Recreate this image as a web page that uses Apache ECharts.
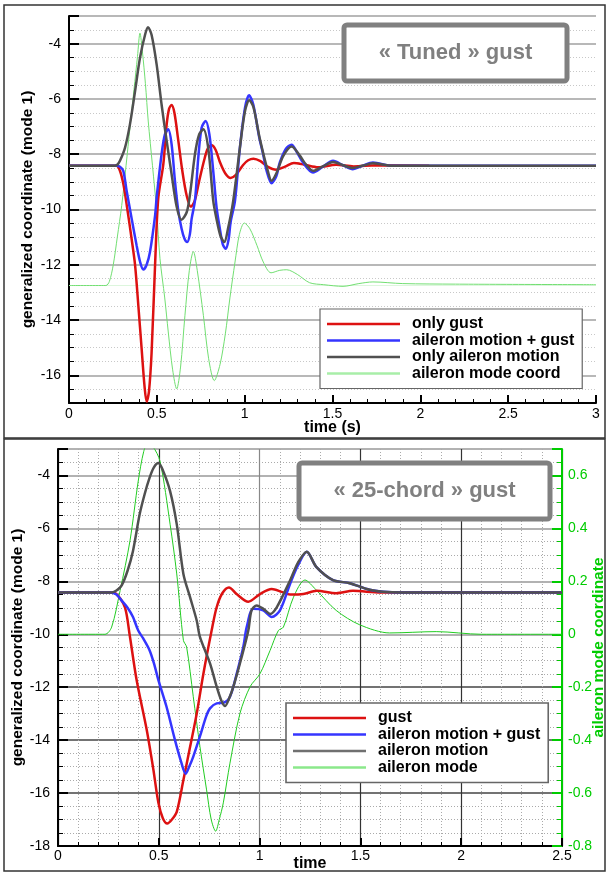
<!DOCTYPE html>
<html>
<head>
<meta charset="utf-8">
<script src="https://cdn.jsdelivr.net/npm/echarts/dist/echarts.min.js"></script>
<style>
html,body{margin:0;padding:0;background:#fff;}
#chart{width:606px;height:872px;}
</style>
</head>
<body>
<div id="chart"></div>
<script>
// ---------- DATA: top panel ("Tuned" gust), [time, generalized coordinate] ----------
const tunedOnlyGust = [[0,-8.42],[0.27,-8.42],[0.29,-8.6],[0.31,-9.1],[0.33,-9.9],[0.355,-11.0],[0.376,-12.0],[0.395,-13.5],[0.413,-15.0],[0.43,-16.4],[0.442,-16.95],[0.455,-16.6],[0.47,-15.2],[0.49,-12.0],[0.508,-9.6],[0.537,-8.36],[0.556,-6.92],[0.57,-6.35],[0.584,-6.22],[0.6,-6.5],[0.62,-7.4],[0.645,-8.6],[0.67,-9.5],[0.694,-9.9],[0.715,-9.7],[0.74,-9.0],[0.77,-8.2],[0.79,-7.8],[0.812,-7.68],[0.835,-7.85],[0.86,-8.3],[0.89,-8.7],[0.92,-8.86],[0.95,-8.75],[0.99,-8.4],[1.02,-8.22],[1.05,-8.16],[1.09,-8.25],[1.13,-8.45],[1.18,-8.56],[1.23,-8.45],[1.28,-8.32],[1.34,-8.38],[1.42,-8.47],[1.52,-8.38],[1.62,-8.44],[1.75,-8.4],[2.05,-8.42]];
const tunedAileronGust = [[0,-8.42],[0.27,-8.42],[0.29,-8.45],[0.309,-8.6],[0.328,-9.32],[0.357,-10.34],[0.385,-11.3],[0.405,-11.9],[0.423,-12.17],[0.442,-12.0],[0.461,-11.54],[0.49,-10.22],[0.499,-9.56],[0.527,-8.0],[0.546,-7.28],[0.565,-7.1],[0.584,-7.64],[0.603,-8.96],[0.622,-10.04],[0.641,-10.7],[0.657,-11.05],[0.673,-11.18],[0.688,-10.9],[0.698,-10.34],[0.717,-9.68],[0.736,-8.12],[0.755,-7.04],[0.778,-6.8],[0.799,-7.28],[0.821,-8.6],[0.84,-9.92],[0.859,-10.7],[0.875,-11.25],[0.892,-11.42],[0.908,-11.1],[0.92,-10.46],[0.945,-9.68],[0.973,-7.76],[1.002,-6.32],[1.025,-5.87],[1.049,-6.2],[1.083,-7.4],[1.105,-8.0],[1.125,-8.6],[1.153,-9.05],[1.18,-8.8],[1.2,-8.3],[1.235,-7.8],[1.267,-7.66],[1.295,-7.9],[1.332,-8.3],[1.389,-8.66],[1.445,-8.45],[1.503,-8.24],[1.56,-8.4],[1.616,-8.54],[1.67,-8.42],[1.73,-8.3],[1.84,-8.42],[3,-8.42]];
const tunedOnlyAileron = [[0,-8.42],[0.26,-8.42],[0.275,-8.38],[0.29,-8.24],[0.319,-7.76],[0.347,-6.92],[0.376,-5.72],[0.404,-4.52],[0.433,-3.68],[0.45,-3.41],[0.47,-3.68],[0.499,-4.76],[0.527,-6.2],[0.556,-7.52],[0.584,-8.72],[0.613,-9.9],[0.64,-10.37],[0.67,-10.1],[0.689,-9.44],[0.717,-8.0],[0.74,-7.3],[0.765,-7.1],[0.793,-7.8],[0.821,-9.68],[0.84,-10.35],[0.862,-10.95],[0.884,-11.18],[0.905,-10.7],[0.935,-9.68],[0.973,-7.76],[1.002,-6.44],[1.026,-6.05],[1.05,-6.3],[1.087,-7.46],[1.134,-8.66],[1.153,-8.96],[1.18,-8.7],[1.22,-8.06],[1.267,-7.72],[1.315,-8.06],[1.34,-8.3],[1.389,-8.6],[1.445,-8.44],[1.503,-8.28],[1.56,-8.4],[1.616,-8.5],[1.67,-8.42],[1.73,-8.33],[1.84,-8.42],[3,-8.42]];
const tunedAileronMode = [[0,-12.75],[0.21,-12.75],[0.23,-12.6],[0.252,-12.0],[0.275,-11.0],[0.3,-9.86],[0.325,-8.4],[0.347,-7.04],[0.37,-5.66],[0.39,-4.46],[0.404,-3.62],[0.418,-4.3],[0.435,-5.45],[0.451,-6.8],[0.475,-8.4],[0.499,-10.04],[0.518,-11.78],[0.545,-13.2],[0.565,-14.43],[0.59,-15.8],[0.613,-16.49],[0.635,-15.7],[0.66,-13.83],[0.685,-12.2],[0.708,-11.52],[0.73,-12.2],[0.765,-13.83],[0.795,-15.4],[0.827,-16.19],[0.86,-15.6],[0.89,-14.5],[0.916,-13.2],[0.945,-11.9],[0.97,-10.9],[0.998,-10.49],[1.03,-10.7],[1.07,-11.3],[1.106,-11.9],[1.15,-12.29],[1.2,-12.2],[1.24,-12.18],[1.3,-12.35],[1.37,-12.65],[1.45,-12.72],[1.56,-12.78],[1.65,-12.68],[1.73,-12.62],[1.9,-12.68],[2.2,-12.7],[3,-12.72]];
const tunedBaseline = -12.75;

// ---------- DATA: bottom panel ("25-chord" gust) ----------
const chordGust = [[0,-8.42],[0.26,-8.42],[0.29,-8.48],[0.332,-8.98],[0.355,-10.0],[0.39,-11.73],[0.44,-13.61],[0.473,-15.11],[0.498,-16.37],[0.52,-16.95],[0.542,-17.15],[0.565,-17.0],[0.589,-16.71],[0.622,-15.51],[0.655,-14.26],[0.688,-13.0],[0.721,-11.5],[0.762,-9.86],[0.787,-8.98],[0.815,-8.45],[0.848,-8.23],[0.886,-8.48],[0.944,-8.77],[1.002,-8.48],[1.06,-8.29],[1.11,-8.4],[1.151,-8.5],[1.217,-8.48],[1.283,-8.36],[1.38,-8.45],[1.463,-8.36],[1.6,-8.42],[2.5,-8.42]];
const chordAileronGust = [[0,-8.42],[0.26,-8.42],[0.29,-8.5],[0.316,-8.73],[0.345,-9.0],[0.372,-9.35],[0.398,-9.86],[0.422,-10.15],[0.454,-10.6],[0.476,-11.1],[0.498,-11.73],[0.538,-12.73],[0.58,-13.99],[0.61,-14.8],[0.633,-15.27],[0.651,-15.0],[0.671,-14.62],[0.704,-13.86],[0.735,-13.1],[0.754,-12.8],[0.787,-12.61],[0.82,-12.59],[0.853,-12.36],[0.886,-11.5],[0.919,-10.48],[0.936,-9.73],[0.969,-9.04],[1.018,-9.1],[1.06,-9.35],[1.101,-9.1],[1.151,-8.1],[1.19,-7.4],[1.234,-6.88],[1.281,-7.45],[1.364,-7.95],[1.447,-8.07],[1.546,-8.32],[1.612,-8.39],[1.7,-8.42],[2.5,-8.42]];
const chordAileron = [[0,-8.42],[0.266,-8.42],[0.29,-8.35],[0.316,-8.15],[0.345,-7.6],[0.372,-6.85],[0.405,-5.47],[0.43,-4.7],[0.454,-4.09],[0.475,-3.7],[0.498,-3.53],[0.52,-3.8],[0.556,-4.59],[0.589,-5.84],[0.622,-7.72],[0.655,-8.6],[0.688,-9.48],[0.704,-10.1],[0.754,-11.1],[0.787,-11.98],[0.81,-12.5],[0.829,-12.71],[0.85,-12.4],[0.87,-11.98],[0.911,-10.86],[0.944,-9.86],[0.96,-9.1],[0.986,-8.91],[1.02,-9.05],[1.052,-9.23],[1.085,-8.98],[1.151,-7.97],[1.19,-7.3],[1.234,-6.88],[1.281,-7.45],[1.364,-7.95],[1.447,-8.07],[1.546,-8.32],[1.612,-8.39],[1.7,-8.42],[2.5,-8.42]];
const chordAileronMode = [[0,0],[0.233,0],[0.266,0.027],[0.308,0.165],[0.357,0.353],[0.398,0.579],[0.425,0.69],[0.445,0.72],[0.47,0.71],[0.506,0.654],[0.556,0.416],[0.589,0.228],[0.622,-0.023],[0.638,-0.048],[0.671,-0.236],[0.704,-0.424],[0.737,-0.588],[0.76,-0.7],[0.782,-0.744],[0.8,-0.7],[0.82,-0.637],[0.853,-0.487],[0.903,-0.298],[0.953,-0.198],[1.002,-0.149],[1.052,-0.061],[1.093,0.014],[1.118,0.027],[1.168,0.14],[1.225,0.205],[1.28,0.168],[1.38,0.09],[1.496,0.036],[1.645,0.005],[1.876,0.01],[2.1,0.0],[2.5,0.0]];

const topNames = ['only gust','aileron motion + gust','only aileron motion','aileron mode coord'];
const botNames = ['gust','aileron motion + gust','aileron motion','aileron mode'];
const topTitle = '\u00AB Tuned \u00BB gust';
const botTitle = '\u00AB 25-chord \u00BB gust';
const yName = 'generalized coordinate (mode 1)';
const y2Name = 'aileron mode coordinate';

// ---------- STYLES ----------
const FONT = '"Liberation Sans", Arial, sans-serif';
const RED = '#dd1111', BLUE = '#3535ff', BLACK = '#505050', GREEN_T = '#72df72', GREEN_B = '#22cc22', AXG = '#00cc00';

const chart = echarts.init(document.getElementById('chart'), null, {renderer:'canvas'});

function fmt(v){ const r = Math.round(v*10)/10; return (Object.is(r,-0)?0:r).toString(); }

function legendData(names, colors){
  return names.map((n,i)=>({name:n, icon:'rect', itemStyle:{color:colors[i]}}));
}

const legendCommon = {
  orient:'vertical', padding:[7,8,7,7], itemWidth:73, itemHeight:2.5, itemGap:0.5,
  backgroundColor:'#fff', borderColor:'#666', borderWidth:1.2, selectedMode:false,
  textStyle:{fontWeight:'bold', fontSize:16, color:'#000', fontFamily:FONT, lineHeight:15, padding:[0,0,0,7]}, z:10
};

const option = {
  animation:false,
  backgroundColor:'#fff',
  textStyle:{fontFamily:FONT},
  grid:[
    {left:69, top:16, width:527, height:387, outerBoundsMode:'none', containLabel:false},
    {left:58, top:449, width:504, height:397, outerBoundsMode:'none', containLabel:false}
  ],
  xAxis:[
    {gridIndex:0, type:'value', min:0, max:3, interval:0.5,
     axisLine:{onZero:false, lineStyle:{color:'#000', width:2}},
     axisTick:{inside:true, length:8, lineStyle:{color:'#000', width:2}},
     minorTick:{show:true, splitNumber:5, length:4, lineStyle:{color:'#000', width:1}},
     axisLabel:{color:'#000', fontSize:14, margin:4, fontFamily:FONT, formatter:fmt},
     splitLine:{show:false},
     name:'time (s)', nameLocation:'middle', nameGap:17, nameMoveOverlap:false,
     nameTextStyle:{fontWeight:'bold', fontSize:16, color:'#000', fontFamily:FONT}},
    {gridIndex:1, type:'value', min:0, max:2.5, interval:0.5,
     axisLine:{onZero:false, lineStyle:{color:'#000', width:2}},
     axisTick:{inside:true, length:8, lineStyle:{color:'#000', width:2}},
     minorTick:{show:true, splitNumber:5, length:4, lineStyle:{color:'#000', width:1}},
     axisLabel:{color:'#000', fontSize:14, margin:3, fontFamily:FONT, formatter:fmt},
     splitLine:{show:true, lineStyle:{color:['#000','#333','#888','#333','#333','#333'], width:1.2}},
     minorSplitLine:{show:true, lineStyle:{color:'#aaa', width:1, type:[1,2]}},
     name:'time', nameLocation:'middle', nameGap:10, nameMoveOverlap:false,
     nameTextStyle:{fontWeight:'bold', fontSize:16, color:'#000', fontFamily:FONT}}
  ],
  yAxis:[
    {gridIndex:0, type:'value', min:-17, max:-3, splitNumber:7,
     axisLine:{show:true, onZero:false, lineStyle:{color:'#000', width:2}},
     axisTick:{inside:true, length:10, lineStyle:{color:'#000', width:2}},
     minorTick:{show:true, splitNumber:4, length:5, lineStyle:{color:'#000', width:1}},
     axisLabel:{color:'#000', fontSize:14, margin:8, fontFamily:FONT, showMinLabel:false, showMaxLabel:false},
     splitLine:{show:true, lineStyle:{color:'#b8b8b8', width:2}},
     minorSplitLine:{show:true, lineStyle:{color:'#c8c8c8', width:1, type:[1,2]}},
     name:yName, nameLocation:'middle', nameGap:33, nameMoveOverlap:false,
     nameTextStyle:{fontWeight:'bold', fontSize:15.5, color:'#000', fontFamily:FONT}},
    {gridIndex:1, type:'value', min:-18, max:-3, interval:2,
     axisLine:{show:true, onZero:false, lineStyle:{color:'#000', width:2}},
     axisTick:{inside:true, length:10, lineStyle:{color:'#000', width:2}},
     minorTick:{show:true, splitNumber:4, length:5, lineStyle:{color:'#000', width:1}},
     axisLabel:{color:'#000', fontSize:14, margin:8, fontFamily:FONT, showMaxLabel:false},
     splitLine:{show:true, lineStyle:{color:['#000','#444','#444','#444','#999','#999','#999','#999','#999'], width:1.6}},
     minorSplitLine:{show:true, lineStyle:{color:'#aaa', width:1, type:[1,2]}},
     name:yName, nameLocation:'middle', nameGap:32, nameMoveOverlap:false,
     nameTextStyle:{fontWeight:'bold', fontSize:15.5, color:'#000', fontFamily:FONT}},
    {gridIndex:1, type:'value', position:'right', min:-0.8, max:0.7, interval:0.2,
     axisLine:{show:true, onZero:false, lineStyle:{color:AXG, width:2}},
     axisTick:{inside:true, length:10, lineStyle:{color:AXG, width:2}},
     minorTick:{show:true, splitNumber:4, length:5, lineStyle:{color:AXG, width:1}},
     axisLabel:{color:AXG, fontSize:14, margin:6, fontFamily:FONT, showMaxLabel:false, formatter:fmt},
     splitLine:{show:false},
     name:y2Name, nameLocation:'middle', nameGap:29, nameRotate:90, nameMoveOverlap:false,
     nameTextStyle:{fontWeight:'bold', fontSize:15.5, color:AXG, fontFamily:FONT}}
  ],
  legend:[
    Object.assign({}, legendCommon, {left:320, top:309, data:legendData(topNames,[RED,BLUE,BLACK,'#a8eea8'])}),
    Object.assign({}, legendCommon, {left:286, top:703, borderWidth:1.6, data:legendData(botNames,[RED,BLUE,'#707070','#8be88b'])})
  ],
  graphic:[
    {type:'rect', z:100, shape:{x:4, y:5, width:601, height:433}, style:{fill:null, stroke:'#333', lineWidth:1.5}},
    {type:'rect', z:100, shape:{x:4, y:439, width:601, height:432}, style:{fill:null, stroke:'#333', lineWidth:1.5}},
    {type:'rect', z:100, shape:{x:344, y:25, width:223, height:56, r:3}, style:{fill:'#fff', stroke:'#808080', lineWidth:5}},
    {type:'text', z:101, x:455.5, y:53, style:{text:topTitle, fill:'#808080', font:'bold 22px "Liberation Sans", Arial, sans-serif', textAlign:'center', textVerticalAlign:'middle'}},
    {type:'rect', z:100, shape:{x:299, y:463, width:251, height:56, r:3}, style:{fill:'#fff', stroke:'#808080', lineWidth:5}},
    {type:'text', z:101, x:424.5, y:491, style:{text:botTitle, fill:'#808080', font:'bold 22px "Liberation Sans", Arial, sans-serif', textAlign:'center', textVerticalAlign:'middle'}}
  ],
  series:[
    {name:topNames[3], type:'line', xAxisIndex:0, yAxisIndex:0, data:tunedAileronMode, showSymbol:false, symbol:'none', smooth:0.3, z:3,
     lineStyle:{color:GREEN_T, width:1}, itemStyle:{color:GREEN_T},
     markLine:{silent:true, z:1, symbol:'none', label:{show:false}, lineStyle:{color:'#ddf6dd', width:1, type:'solid'}, data:[{yAxis:tunedBaseline}]}},
    {name:topNames[0], type:'line', xAxisIndex:0, yAxisIndex:0, data:tunedOnlyGust, showSymbol:false, symbol:'none', smooth:0.3, z:4,
     lineStyle:{color:RED, width:2.5}, itemStyle:{color:RED}},
    {name:topNames[1], type:'line', xAxisIndex:0, yAxisIndex:0, data:tunedAileronGust, showSymbol:false, symbol:'none', smooth:0.3, z:5,
     lineStyle:{color:BLUE, width:2.5}, itemStyle:{color:BLUE}},
    {name:topNames[2], type:'line', xAxisIndex:0, yAxisIndex:0, data:tunedOnlyAileron, showSymbol:false, symbol:'none', smooth:0.3, z:6,
     lineStyle:{color:BLACK, width:2.5}, itemStyle:{color:BLACK}},

    {name:botNames[3], type:'line', xAxisIndex:1, yAxisIndex:2, data:chordAileronMode, showSymbol:false, symbol:'none', smooth:0.3, z:3,
     lineStyle:{color:GREEN_B, width:1}, itemStyle:{color:'#8be88b'}},
    {name:botNames[0], type:'line', xAxisIndex:1, yAxisIndex:1, data:chordGust, showSymbol:false, symbol:'none', smooth:0.3, z:4,
     lineStyle:{color:RED, width:2.5}, itemStyle:{color:RED}},
    {name:botNames[1], type:'line', xAxisIndex:1, yAxisIndex:1, data:chordAileronGust, showSymbol:false, symbol:'none', smooth:0.3, z:5,
     lineStyle:{color:BLUE, width:2.5}, itemStyle:{color:BLUE}},
    {name:botNames[2], type:'line', xAxisIndex:1, yAxisIndex:1, data:chordAileron, showSymbol:false, symbol:'none', smooth:0.3, z:6,
     lineStyle:{color:BLACK, width:2.5}, itemStyle:{color:BLACK}}
  ]
};
chart.setOption(option);
</script>
</body>
</html>
